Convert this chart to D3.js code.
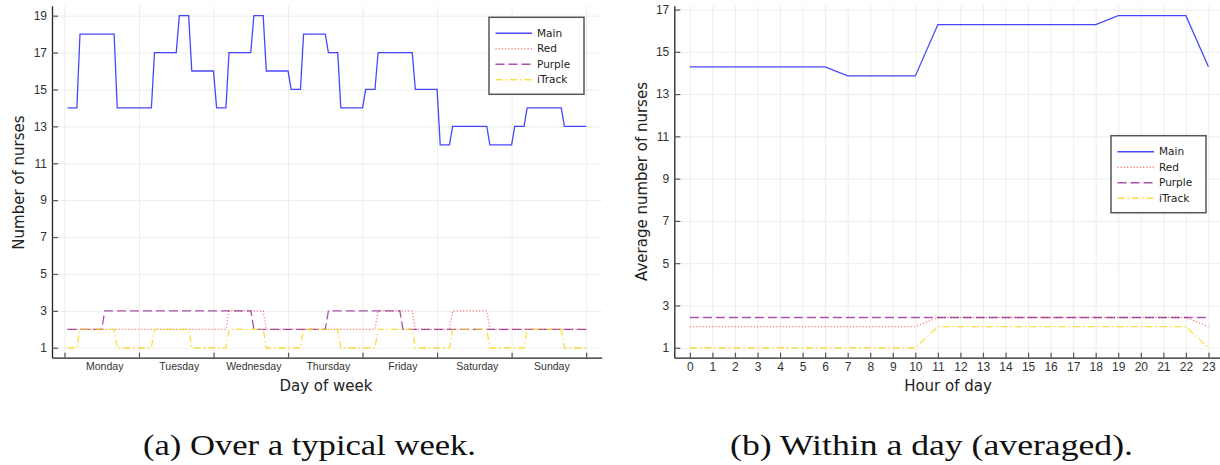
<!DOCTYPE html>
<html>
<head>
<meta charset="utf-8">
<script src="https://cdn.jsdelivr.net/npm/d3@7"></script>
<style>
  body { margin: 0; background: #fff; }
  svg { display: block; font-family: "DejaVu Sans", sans-serif; }
  .grid line { stroke: #e8e8e8; stroke-width: 0.8; }
  .grid path { display: none; }
  .axis path { stroke: #222; stroke-width: 1.3; }
  .axis line { stroke: #555; stroke-width: 1.2; }
  .axis text { fill: #333; }
</style>
</head>
<body>
<div id="chart"></div>
<script>
// ---- data: (a) hourly staffing over a typical week, hours 1..168 ----
var dayNames = ["Monday", "Tuesday", "Wednesday", "Thursday", "Friday", "Saturday", "Sunday"];

var weekMain = [
  14,14,14,14,18,18,18,18,18,18,18,18,18,18,18,18,14,14,14,14,14,14,14,14,
  14,14,14,14,17,17,17,17,17,17,17,17,19,19,19,19,16,16,16,16,16,16,16,16,
  14,14,14,14,17,17,17,17,17,17,17,17,19,19,19,19,16,16,16,16,16,16,16,16,
  15,15,15,15,18,18,18,18,18,18,18,18,17,17,17,17,14,14,14,14,14,14,14,14,
  15,15,15,15,17,17,17,17,17,17,17,17,17,17,17,17,15,15,15,15,15,15,15,15,
  12,12,12,12,13,13,13,13,13,13,13,13,13,13,13,13,12,12,12,12,12,12,12,12,
  13,13,13,13,14,14,14,14,14,14,14,14,14,14,14,14,13,13,13,13,13,13,13,13
];
var weekRed = [
  2,2,2,2,2,2,2,2,2,2,2,2,2,2,2,2,2,2,2,2,2,2,2,2,
  2,2,2,2,2,2,2,2,2,2,2,2,2,2,2,2,2,2,2,2,2,2,2,2,
  2,2,2,2,3,3,3,3,3,3,3,3,3,3,3,3,2,2,2,2,2,2,2,2,
  2,2,2,2,2,2,2,2,2,2,2,2,2,2,2,2,2,2,2,2,2,2,2,2,
  2,2,2,2,3,3,3,3,3,3,3,3,3,3,3,3,2,2,2,2,2,2,2,2,
  2,2,2,2,3,3,3,3,3,3,3,3,3,3,3,3,2,2,2,2,2,2,2,2,
  2,2,2,2,2,2,2,2,2,2,2,2,2,2,2,2,2,2,2,2,2,2,2,2
];
var weekPurple = [
  2,2,2,2,2,2,2,2,2,2,2,2,3,3,3,3,3,3,3,3,3,3,3,3,
  3,3,3,3,3,3,3,3,3,3,3,3,3,3,3,3,3,3,3,3,3,3,3,3,
  3,3,3,3,3,3,3,3,3,3,3,3,2,2,2,2,2,2,2,2,2,2,2,2,
  2,2,2,2,2,2,2,2,2,2,2,2,3,3,3,3,3,3,3,3,3,3,3,3,
  3,3,3,3,3,3,3,3,3,3,3,3,2,2,2,2,2,2,2,2,2,2,2,2,
  2,2,2,2,2,2,2,2,2,2,2,2,2,2,2,2,2,2,2,2,2,2,2,2,
  2,2,2,2,2,2,2,2,2,2,2,2,2,2,2,2,2,2,2,2,2,2,2,2
];
var weekITrack = [
  1,1,1,1,2,2,2,2,2,2,2,2,2,2,2,2,1,1,1,1,1,1,1,1,
  1,1,1,1,2,2,2,2,2,2,2,2,2,2,2,2,1,1,1,1,1,1,1,1,
  1,1,1,1,2,2,2,2,2,2,2,2,2,2,2,2,1,1,1,1,1,1,1,1,
  1,1,1,1,2,2,2,2,2,2,2,2,2,2,2,2,1,1,1,1,1,1,1,1,
  1,1,1,1,2,2,2,2,2,2,2,2,2,2,2,2,1,1,1,1,1,1,1,1,
  1,1,1,1,2,2,2,2,2,2,2,2,2,2,2,2,1,1,1,1,1,1,1,1,
  1,1,1,1,2,2,2,2,2,2,2,2,2,2,2,2,1,1,1,1,1,1,1,1
];

// ---- data: (b) average per hour of day, hours 0..23 ----
var dayMain = [14.29,14.29,14.29,14.29,14.29,14.29,14.29,13.86,13.86,13.86,13.86,16.29,
               16.29,16.29,16.29,16.29,16.29,16.29,16.29,16.71,16.71,16.71,16.71,14.29];
var dayRed = [2,2,2,2,2,2,2,2,2,2,2,2.43,2.43,2.43,2.43,2.43,2.43,2.43,2.43,2.43,2.43,2.43,2.43,2];
var dayPurple = [2.43,2.43,2.43,2.43,2.43,2.43,2.43,2.43,2.43,2.43,2.43,2.43,
                 2.43,2.43,2.43,2.43,2.43,2.43,2.43,2.43,2.43,2.43,2.43,2.43];
var dayITrack = [1,1,1,1,1,1,1,1,1,1,1,2,2,2,2,2,2,2,2,2,2,2,2,1];

var yTicks = [1, 3, 5, 7, 9, 11, 13, 15, 17, 19];
var seriesNames = ["Main", "Red", "Purple", "iTrack"];

var styles = {
  Main:   {color: "#0000ff", opacity: 0.72, dash: null,      width: 1.3},
  Red:    {color: "#ff0000", opacity: 0.5,  dash: "1.2,2",   width: 1.3},
  Purple: {color: "#800080", opacity: 0.68, dash: "9,4",     width: 1.3},
  iTrack: {color: "#ffd200", opacity: 0.75, dash: "7,3,1.5,3", width: 1.3}
};

var W = 1220, H = 465;
var svg = d3.select("#chart").append("svg").attr("width", W).attr("height", H);

function padded(values) {
  var ext = d3.extent(values);
  var p = (ext[1] - ext[0]) * 0.03;
  return [ext[0] - p, ext[1] + p];
}

function drawPanel(opt) {
  var xs = d3.scaleLinear().domain(padded(opt.xData)).range([opt.left, opt.right]);
  var ys = d3.scaleLinear().domain(padded(d3.merge(opt.series))).range([opt.bottom, opt.top]);
  var g = svg.append("g");
  var yt = yTicks.filter(function(t) { return t >= ys.domain()[0] && t <= ys.domain()[1]; });

  // grid
  g.append("g").attr("class", "grid")
    .attr("transform", "translate(0," + opt.bottom + ")")
    .call(d3.axisBottom(xs).tickValues(opt.gridX).tickSize(-(opt.bottom - opt.top)).tickFormat(""));
  g.append("g").attr("class", "grid")
    .attr("transform", "translate(" + opt.left + ",0)")
    .call(d3.axisLeft(ys).tickValues(yt).tickSize(-(opt.right - opt.left)).tickFormat(""));

  // series
  var line = d3.line()
    .x(function(d) { return xs(d[0]); })
    .y(function(d) { return ys(d[1]); });
  opt.series.forEach(function(vals, i) {
    var st = styles[seriesNames[i]];
    g.append("path")
      .datum(vals.map(function(v, j) { return [opt.xData[j], v]; }))
      .attr("fill", "none")
      .attr("stroke", st.color)
      .attr("stroke-opacity", st.opacity)
      .attr("stroke-width", st.width)
      .attr("stroke-dasharray", st.dash)
      .attr("d", line);
  });

  // axes
  var gx = g.append("g").attr("class", "axis")
    .attr("transform", "translate(0," + opt.bottom + ")")
    .call(d3.axisBottom(xs).tickValues(opt.gridX).tickSizeInner(-5).tickSizeOuter(0).tickFormat(""));
  if (opt.xLabels) {
    g.append("g").attr("class", "axis")
      .attr("transform", "translate(0," + opt.bottom + ")")
      .call(d3.axisBottom(xs).tickValues(opt.xLabelPos).tickSize(0).tickPadding(5)
        .tickFormat(function(d, i) { return opt.xLabels[i]; }))
      .call(function(s) { s.select(".domain").remove(); })
      .selectAll("text").style("font-size", "10.5px");
  } else {
    gx.call(d3.axisBottom(xs).tickValues(opt.gridX).tickSizeInner(-5).tickSizeOuter(0).tickPadding(5))
      .selectAll("text").style("font-size", "12px");
  }
  g.append("g").attr("class", "axis")
    .attr("transform", "translate(" + opt.left + ",0)")
    .call(d3.axisLeft(ys).tickValues(yt).tickSizeInner(-6).tickSizeOuter(0).tickPadding(5))
    .selectAll("text").style("font-size", "12px");

  // axis titles
  g.append("text")
    .attr("x", opt.xTitleX).attr("y", 391)
    .attr("text-anchor", "middle")
    .style("font-size", "15px").style("fill", "#222")
    .text(opt.xTitle);
  g.append("text")
    .attr("transform", "translate(" + opt.yTitleX + "," + opt.yTitleY + ") rotate(-90)")
    .attr("text-anchor", "middle")
    .attr("dy", "0.35em")
    .style("font-size", "15px").style("fill", "#222")
    .text(opt.yTitle);

  // legend
  var lg = g.append("g").attr("transform", "translate(" + opt.legend[0] + "," + opt.legend[1] + ")");
  lg.append("rect")
    .attr("width", 95).attr("height", 77)
    .attr("fill", "#fff").attr("stroke", "#555").attr("stroke-width", 1.5);
  seriesNames.forEach(function(name, i) {
    var st = styles[name];
    var yy = 16 + i * 15.5;
    lg.append("line")
      .attr("x1", 6.5).attr("x2", 43).attr("y1", yy).attr("y2", yy)
      .attr("stroke", st.color).attr("stroke-opacity", st.opacity)
      .attr("stroke-width", st.width + 0.3).attr("stroke-dasharray", st.dash);
    lg.append("text")
      .attr("x", 48).attr("y", yy).attr("dy", "0.35em")
      .style("font-size", "10.5px").style("fill", "#222")
      .text(name);
  });
}

var weekHours = weekMain.map(function(d, i) { return i + 1; });
var dayHours = dayMain.map(function(d, i) { return i; });

drawPanel({
  left: 52, right: 601.7, top: 5.7, bottom: 357.7,
  xData: weekHours,
  series: [weekMain, weekRed, weekPurple, weekITrack],
  gridX: d3.range(0, 169, 24),
  xLabels: dayNames,
  xLabelPos: dayNames.map(function(d, i) { return i * 24 + 12.8; }),
  xTitle: "Day of week", xTitleX: 326,
  yTitle: "Number of nurses", yTitleX: 19, yTitleY: 182.5,
  legend: [489, 17.3]
});

drawPanel({
  left: 674.3, right: 1224, top: 5.7, bottom: 357.7,
  xData: dayHours,
  series: [dayMain, dayRed, dayPurple, dayITrack],
  gridX: dayHours,
  xLabels: null,
  xTitle: "Hour of day", xTitleX: 948,
  yTitle: "Average number of nurses", yTitleX: 641.5, yTitleY: 181.5,
  legend: [1111, 135.7]
});

// captions
var captions = [["(a) Over a typical week.", 309.5, 333], ["(b) Within a day (averaged).", 931.5, 403]];
captions.forEach(function(c) {
  svg.append("text")
    .attr("x", c[1]).attr("y", 455)
    .attr("text-anchor", "middle")
    .attr("textLength", c[2])
    .attr("lengthAdjust", "spacingAndGlyphs")
    .style("font-family", "'Liberation Serif', 'DejaVu Serif', serif")
    .style("font-size", "30px").style("fill", "#111")
    .text(c[0]);
});
</script>
</body>
</html>
